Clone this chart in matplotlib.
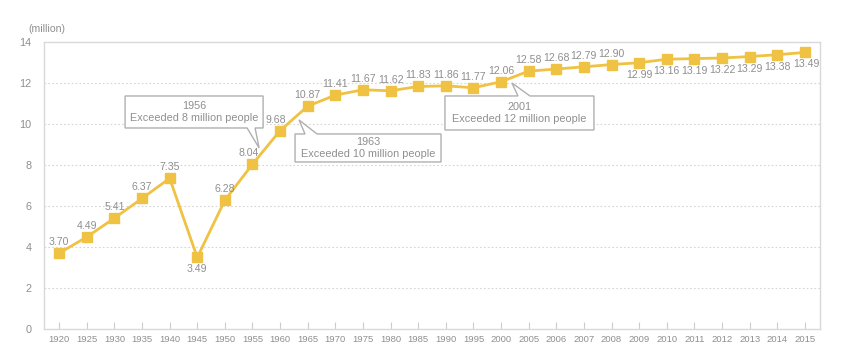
import matplotlib
matplotlib.use("Agg")
import matplotlib.pyplot as plt
from matplotlib.patches import Polygon
from matplotlib.transforms import Affine2D

years = ["1920", "1925", "1930", "1935", "1940", "1945", "1950", "1955", "1960",
         "1965", "1970", "1975", "1980", "1985", "1990", "1995", "2000", "2005",
         "2006", "2007", "2008", "2009", "2010", "2011", "2012", "2013", "2014", "2015"]
population = [3.70, 4.49, 5.41, 6.37, 7.35, 3.49, 6.28, 8.04, 9.68, 10.87, 11.41,
              11.67, 11.62, 11.83, 11.86, 11.77, 12.06, 12.58, 12.68, 12.79, 12.90,
              12.99, 13.16, 13.19, 13.22, 13.29, 13.38, 13.49]
label_below = {"1945", "2009", "2010", "2011", "2012", "2013", "2014", "2015"}

callouts = [
    # anchor index, text, box (left, right, top, bottom) px offsets, tail side, tail base x1, x2, tip
    (7, "1956\nExceeded 8 million people", (-127.4, 10.6, 68.2, 36.2), "bottom", (-5.4, 2.6), (6.6, 16.2)),
    (9, "1963\nExceeded 10 million people", (-12.7, 133.3, -27.8, -55.8), "top", (-2.7, 9.3), (-8.7, -13.8)),
    (16, "2001\nExceeded 12 million people", (-56.1, 92.9, -14.2, -48.2), "top", (16.9, 28.9), (10.9, -1.2)),
]

LINE = "#EFC244"
GRAY = "#8f8f8f"
FONT = ["Liberation Sans", "DejaVu Sans"]
plt.rcParams["font.family"] = FONT

fig = plt.figure(figsize=(8.51, 3.62), dpi=100)
ax = fig.add_axes([44 / 851, 33 / 362, 776 / 851, 287 / 362])

x = list(range(len(years)))
ax.plot(x, population, color=LINE, lw=2, marker="s", markersize=7,
        markerfacecolor=LINE, markeredgecolor=LINE, zorder=3)

ax.set_xlim(-0.55, len(years) - 0.45)
ax.set_ylim(0, 14)
ax.set_yticks(range(0, 15, 2))
ax.set_xticks(x)
ax.set_xticklabels(years)
ax.tick_params(axis="y", length=0, pad=9, labelsize=7.8, labelcolor=GRAY)
ax.tick_params(axis="x", direction="in", length=5, width=0.8, color="#cccccc",
               pad=4, labelsize=6.8, labelcolor=GRAY)
for s in ax.spines.values():
    s.set_color("#d9d9d9")
    s.set_linewidth(1)
for yv in range(2, 14, 2):
    ax.axhline(yv, color="#d5d5d5", lw=0.8, ls=(0, (1.5, 2)), zorder=1)

for i, (yr, v) in enumerate(zip(years, population)):
    dy = -12 if yr in label_below else 11
    dx = 0
    if yr in ("1955", "1960"):
        dx = -4
    if yr == "2015":
        dx = 2
    ax.annotate(f"{v:.2f}", (i, v), xytext=(dx, dy), textcoords="offset pixels",
                ha="center", va="center", fontsize=7.6, color=GRAY, zorder=4)

fig.text(28 / 851, 1 - 29 / 362, "(million)", fontsize=7.6, color=GRAY,
         ha="left", va="center")

fig.canvas.draw()
for idx, txt, (l, r, t, b), side, (b1, b2), tip in callouts:
    px, py = ax.transData.transform((idx, population[idx]))
    if side == "bottom":
        verts = [(l, t), (r, t), (r, b), (b2, b), tip, (b1, b), (l, b)]
    else:
        verts = [(l, t), (b1, t), tip, (b2, t), (r, t), (r, b), (l, b)]
    poly = Polygon(verts, closed=True, facecolor="white", edgecolor="#b0b0b0",
                   lw=1, transform=Affine2D().translate(px, py), zorder=5)
    ax.add_patch(poly)
    poly.set_clip_on(False)
    ax.text((l + r) / 2 + px, (t + b) / 2 + py, txt, transform=None,
            ha="center", va="center", fontsize=7.8, color=GRAY,
            linespacing=1.35, zorder=6)

fig.savefig("out.png", dpi=100)
